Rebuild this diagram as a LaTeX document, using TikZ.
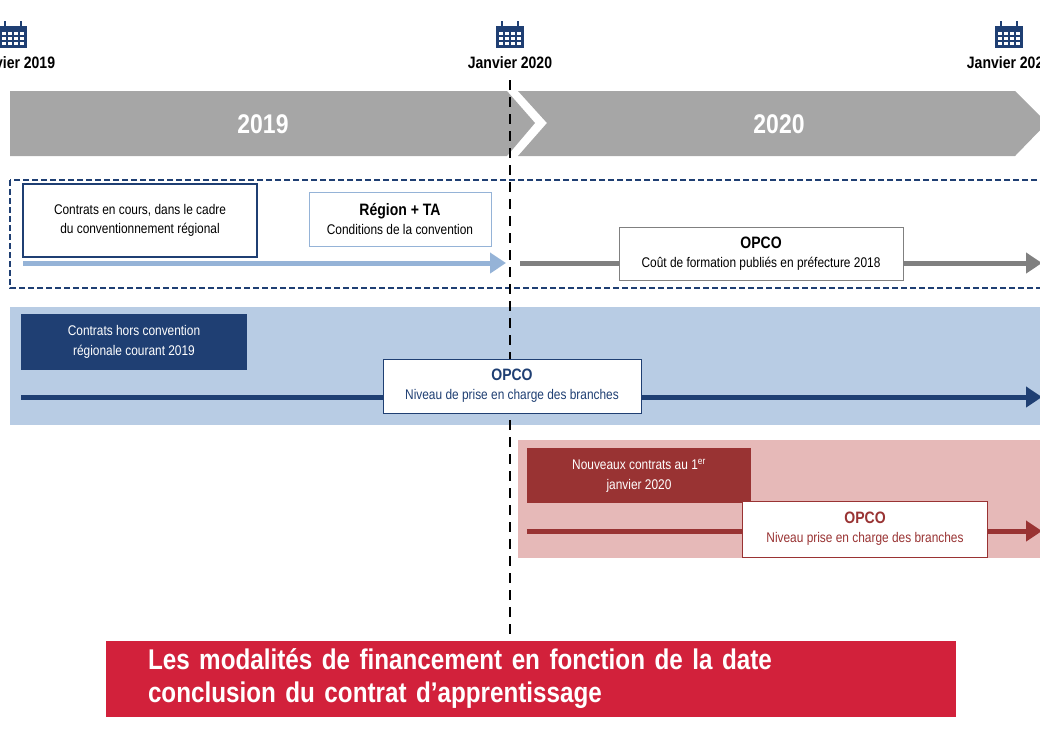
\documentclass[tikz,border=0pt]{standalone}
\usepackage{fontspec}
\setmainfont{Liberation Sans}[FakeStretch=0.85]
\usetikzlibrary{arrows.meta}
\definecolor{navy}{HTML}{1F3F73}
\definecolor{lblue}{HTML}{B8CCE4}
\definecolor{mblue}{HTML}{95B3D7}
\definecolor{gbar}{HTML}{A6A6A6}
\definecolor{dred}{HTML}{993333}
\definecolor{lred}{HTML}{E6B9B8}
\definecolor{crim}{HTML}{D2213B}
\tikzset{
  wbox/.style={draw=#1,fill=white,align=center,font=\fontsize{14}{19}\selectfont,inner sep=2pt},
  arr/.style={line width=5pt,-{Triangle[length=16pt,width=20pt]},draw=#1},
  big/.style={font=\fontsize{16.5}{19}\selectfont\bfseries}
}
\begin{document}
\begin{tikzpicture}[x=1pt,y=-1pt]
\useasboundingbox (0,0) rectangle (1040,740);
% calendar icons
\foreach \cx/\nm in {13/ca,510/cb,1009/cc}{
  \fill[navy] (\cx-14,26) rectangle (\cx+14,48);
  \foreach \i in {0,1,2,3}{\foreach \j in {0,1,2}{
    \fill[white] (\cx-11+\i*6,32+\j*5) rectangle (\cx-7+\i*6,35+\j*5);}}
  \draw[navy,line width=1.5pt] (\cx-8,21) -- (\cx-8,28) (\cx+8,21) -- (\cx+8,28);
  \coordinate (\nm) at (\cx,48);
}
\node[font=\fontsize{16.5}{18}\selectfont\bfseries] (la) at (13,63) {Janvier 2019};
\node[font=\fontsize{16.5}{18}\selectfont\bfseries] (lb) at (510,63) {Janvier 2020};
\node[font=\fontsize{16.5}{18}\selectfont\bfseries] (lc) at (1009,63) {Janvier 2020};
% grey bar
\fill[gbar] (10,91) -- (507,91) -- (535,123) -- (507,156) -- (10,156) -- cycle;
\fill[gbar] (518,91) -- (1015,91) -- (1047,123) -- (1015,156) -- (518,156) -- (547,123) -- cycle;
\node[white,font=\fontsize{27}{30}\selectfont\bfseries] (y19) at (263,124) {2019};
\node[white,font=\fontsize{27}{30}\selectfont\bfseries] (y20) at (779,124) {2020};
% bands
\fill[lblue] (10,307) rectangle (1040,425);
\fill[lred] (518,440) rectangle (1040,558);
% dashed group
\draw[navy,line width=1.8pt,dash pattern=on 6pt off 3pt] (10,180) rectangle (1050,288);
% vertical dashed line
\draw[black,line width=2.2pt,dash pattern=on 10pt off 7pt] (510,80) -- (510,640);
% row 1
\node[wbox=navy,line width=2pt,minimum width=234pt,minimum height=73pt] (c1) at (140,220.5) {Contrats en cours, dans le cadre\\du conventionnement régional};
\node[wbox=mblue,minimum width=182pt,minimum height=54pt] (r1) at (400,219) {{\fontsize{16.5}{19}\selectfont\bfseries Région + TA}\\Conditions de la convention};
\coordinate (a1s) at (23,263); \coordinate (a1e) at (506,263);
\draw[arr=mblue] (a1s) -- (a1e);
\coordinate (a2s) at (520,263); \coordinate (a2e) at (1042,263);
\draw[arr=gray] (a2s) -- (a2e);
\node[wbox=gray,minimum width=284pt,minimum height=53pt] (o1) at (761,253.5) {{\fontsize{16.5}{19}\selectfont\bfseries OPCO}\\Coût de formation publiés en préfecture 2018};
% row 2
\node[fill=navy,text=white,align=center,font=\fontsize{14}{20}\selectfont,minimum width=226pt,minimum height=56pt] (c2) at (134,342) {Contrats hors convention\\régionale courant 2019};
\coordinate (b1s) at (21,397); \coordinate (b1e) at (1042,397);
\draw[arr=navy] (b1s) -- (b1e);
\node[wbox=navy,text=navy,minimum width=258pt,minimum height=54pt] (o2) at (512,386) {{\fontsize{16.5}{19}\selectfont\bfseries OPCO}\\Niveau de prise en charge des branches};
% row 3
\node[fill=dred,text=white,align=center,font=\fontsize{14}{20}\selectfont,minimum width=224pt,minimum height=55pt] (c3) at (639,475.5) {Nouveaux contrats au 1\textsuperscript{er}\\janvier 2020};
\coordinate (d1s) at (527,531); \coordinate (d1e) at (1042,531);
\draw[arr=dred] (d1s) -- (d1e);
\node[wbox=dred,text=dred,minimum width=245pt,minimum height=56pt] (o3) at (865,529) {{\fontsize{16.5}{19}\selectfont\bfseries OPCO}\\Niveau prise en charge des branches};
% bottom title
\node[fill=crim,text=white,minimum height=76pt,text width=766pt,inner xsep=42pt,align=left,font=\fontsize{28.5}{33}\selectfont\bfseries] (t) at (531,679) {Les modalités de financement en fonction de la date\\conclusion du contrat d’apprentissage};
\end{tikzpicture}
\end{document}
